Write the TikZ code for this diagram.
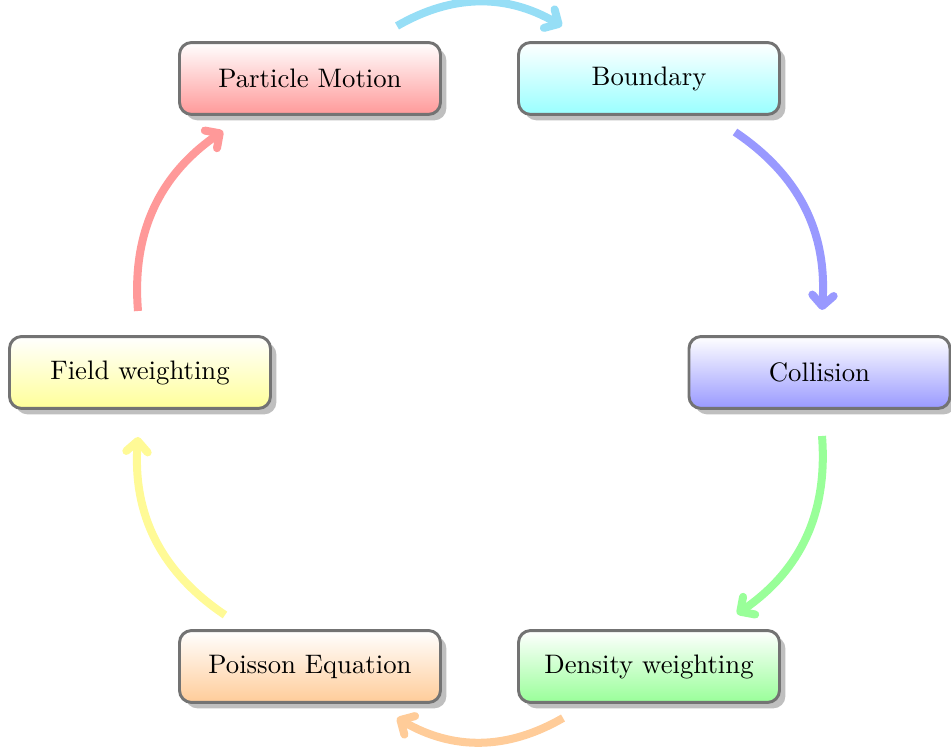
\documentclass[tikz,border=0pt]{standalone}
\usetikzlibrary{arrows.meta,shadows}
\definecolor{arrTop}{RGB}{150,222,246}
\definecolor{arrBlue}{RGB}{153,153,255}
\definecolor{arrGreen}{RGB}{153,255,153}
\definecolor{arrOrange}{RGB}{255,204,153}
\definecolor{arrYellow}{RGB}{255,250,150}
\definecolor{arrRed}{RGB}{255,153,153}
\begin{document}
\begin{tikzpicture}[x=0.374pt,y=0.374pt,
  module/.style={draw=black!55, line width=1.1pt, rounded corners=4.5pt,
    minimum width=97.6pt, minimum height=26.9pt, inner sep=0pt,
    font=\fontsize{10}{12}\selectfont,
    drop shadow={shadow xshift=2.2pt, shadow yshift=-2.2pt, fill=black!25, opacity=1}},
  conn/.style={line width=3pt, -{Straight Barb[length=4pt,width=8pt,round]}, bend left=30}
]
\useasboundingbox (0,0) rectangle (951,747);

\node[module, top color=white, bottom color=red!40] (pm) at (310,668.5) {Particle Motion};
\node[module, top color=white, bottom color=cyan!40] (bd) at (649,668.5) {Boundary};
\node[module, top color=white, bottom color=blue!40] (co) at (819.5,374.5) {Collision};
\node[module, top color=white, bottom color=green!40] (dw) at (649,80.5) {Density weighting};
\node[module, top color=white, bottom color=orange!40] (pe) at (310,80.5) {Poisson Equation};
\node[module, top color=white, bottom color=yellow!40] (fw) at (140,374.5) {Field weighting};

\coordinate (a1s) at (397,721);
\coordinate (a1e) at (562,721);
\coordinate (a2s) at (735,615);
\coordinate (a2e) at (822,437);
\coordinate (a3s) at (822,311);
\coordinate (a3e) at (737,133);
\coordinate (a4s) at (563,29);
\coordinate (a4e) at (397,29);
\coordinate (a5s) at (225,132);
\coordinate (a5e) at (138,310);
\coordinate (a6s) at (138,436);
\coordinate (a6e) at (223,616);

\draw[conn, arrTop] (a1s) to (a1e);
\draw[conn, arrBlue] (a2s) to (a2e);
\draw[conn, arrGreen] (a3s) to (a3e);
\draw[conn, arrOrange] (a4s) to (a4e);
\draw[conn, arrYellow] (a5s) to (a5e);
\draw[conn, arrRed] (a6s) to (a6e);
\end{tikzpicture}
\end{document}
